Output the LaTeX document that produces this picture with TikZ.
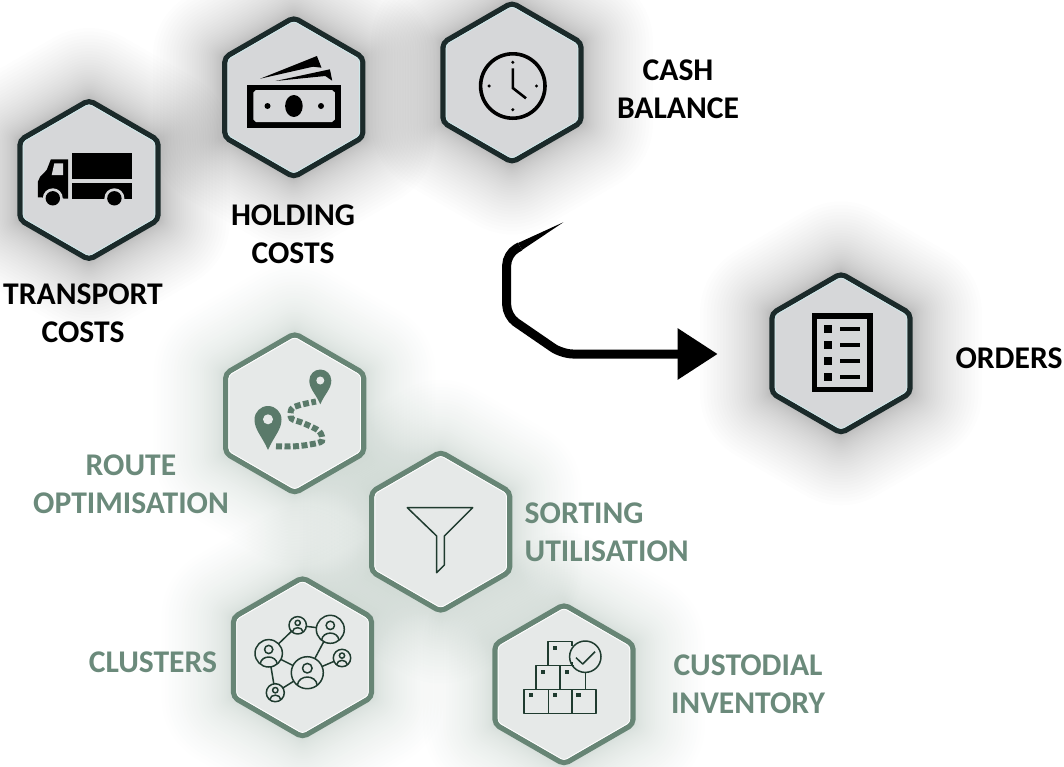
\documentclass[tikz,border=0pt]{standalone}
\usepackage{fontspec}
\setmainfont{Carlito}
\usepackage{tikz}
\usetikzlibrary{shapes.geometric,arrows.meta}
\definecolor{darkrim}{HTML}{1B2A2A}
\definecolor{darkfill}{HTML}{D6D7D9}
\definecolor{darkedge}{HTML}{CDE8EA}
\definecolor{greenrim}{HTML}{678575}
\definecolor{greenfill}{HTML}{E6E9E8}
\definecolor{greentext}{HTML}{6B8A7B}
\definecolor{greenicon}{HTML}{5A7A6A}
\definecolor{greenline}{HTML}{1F3B2F}
\tikzset{
  hexcell/.style={regular polygon,regular polygon sides=6,shape border rotate=30,
    minimum size=159.4pt,inner sep=0pt,outer sep=0pt,rounded corners=5pt,line width=5.3pt},
  hexedge/.style={regular polygon,regular polygon sides=6,shape border rotate=30,
    minimum size=152pt,inner sep=0pt,outer sep=0pt,rounded corners=3pt,line width=.8pt},
  hexglow/.style={regular polygon,regular polygon sides=6,shape border rotate=30,
    minimum size=159.4pt,inner sep=0pt,outer sep=0pt,line join=round},
  darklabel/.style={font=\fontsize{31.6}{38}\bfseries\selectfont,align=center,inner sep=0pt,text=black},
  greenlabel/.style={font=\fontsize{31.6}{38}\bfseries\selectfont,align=center,inner sep=0pt,text=greentext},
  thinicon/.style={draw=greenline,line width=1.5pt,line join=round}
}
\begin{document}
\begin{tikzpicture}[x=1pt,y=-1pt]
  \useasboundingbox (0,0) rectangle (1064,766);
  % glow first, so that it stays under every cell
  \foreach \x/\y in {89/180,293.8/97.3,512/82.5,841/353.3}
    \foreach \k in {1,...,40}
      \node[hexglow,draw=black,draw opacity=.008,line width=\k*\k*0.09pt] at (\x,\y) {};
  \foreach \x/\y in {294.7/413.3,440.7/531.7,302.5/657.3,564/684.3}
    \foreach \k in {1,...,40}
      \node[hexglow,draw=greenrim,draw opacity=.008,line width=\k*\k*0.09pt] at (\x,\y) {};
  % cells
  \foreach \n/\x/\y in {truck/89/180,cash/293.8/97.3,clock/512/82.5,orders/841/353.3}{
    \node[hexcell,draw=darkrim,fill=darkfill] (\n) at (\x,\y) {};
    \node[hexedge,draw=darkedge] (\n edge) at (\x,\y) {};
  }
  \foreach \n/\x/\y in {route/294.7/413.3,sorting/440.7/531.7,clusters/302.5/657.3,custodial/564/684.3}{
    \node[hexcell,draw=greenrim,fill=greenfill] (\n) at (\x,\y) {};
    \node[hexedge,draw=white] (\n edge) at (\x,\y) {};
  }
  % truck
  \fill (71.9,153) rectangle (131.6,179.3);
  \fill (71.9,183.3) rectangle (131.6,198.7);
  \fill (68.1,159.3) -- (50.9,159.3) -- (46.7,170) -- (40.2,176.7) -- (37.9,181.7)
    -- (37.9,197.3) -- (68.1,198.7) -- cycle;
  \fill[darkfill] (63.1,163.3) -- (54.3,163.3) -- (51.7,175) -- (63.1,175) -- cycle;
  \foreach \x in {52.8,114.4}{
    \fill[darkfill] (\x,198.3) circle (10);
    \fill (\x,198.3) circle (7.2);
  }
  % banknotes
  \fill (246.8,85) rectangle (341.4,127.7);
  \fill[darkfill] (256,90) -- (332,90) -- (334.9,92.5) -- (334.9,119.5) -- (332,122)
    -- (256,122) -- (253.3,119.5) -- (253.3,92.5) -- cycle;
  \fill (293.9,106) ellipse (8.8 and 11);
  \fill (267.5,106) circle (3) (321,106) circle (3);
  \fill (260.2,78.7) -- (316.9,56) -- (321.5,67.7) -- (313,66.7) -- cycle;
  \fill (275.5,81) -- (329.9,69.3) -- (332.2,80.7) -- (325.3,76) -- cycle;
  % clock
  \draw[line width=3.6pt] (512.8,86) circle (32.2);
  \draw[line width=2.6pt,line join=miter] (512.8,68.3) -- (512.8,88) -- (526,98.3);
  \fill (512.8,62.3) circle (1.7) (512.8,109.7) circle (1.7)
    (489.1,86) circle (1.7) (536.5,86) circle (1.7);
  % order list
  \draw[line width=5.5pt] (814.4,316) rectangle (870,389.6);
  \foreach \y in {329,345,361,377}{
    \fill (824.3,\y-3.9) rectangle (832,\y+3.9);
    \draw[line width=3.3pt] (840,\y) -- (860,\y);
  }
  % route
  \fill[greenicon] (268,450) .. controls (262,436) and (254.5,430) .. (254.5,419.5)
    arc (180:360:13.5) .. controls (281.5,430) and (274,436) .. (268,450) -- cycle;
  \fill[greenfill] (268,419.3) circle (5);
  \fill[greenicon] (320.3,404.3) .. controls (316,394) and (309.3,389) .. (309.3,380.5)
    arc (180:360:11) .. controls (331.3,389) and (324.6,394) .. (320.3,404.3) -- cycle;
  \fill[greenfill] (320.3,380.5) circle (4);
  \draw[greenicon,line width=6pt,dash pattern=on 6pt off 2.5pt] plot[smooth] coordinates
    {(276,446.3) (295,446.3) (310,444.5) (322,441) (319,431) (303,423) (291.5,418.5) (291.5,409) (300,405) (316,401.5)};
  % funnel
  \draw[thinicon] (407.3,507.7) -- (472.7,507.7) -- (444.3,536) -- (444.3,565)
    -- (436.7,572.7) -- (436.7,536) -- cycle;
  % clusters
  \foreach \n/\x/\y/\r in {usera/268.7/653.3/13.7,userb/297.7/625.3/8.7,userc/330.3/629.3/14,
      userd/342/658/8.7,usere/307.3/672.7/16,userf/275.3/692.7/9}{
    \node[circle,thinicon,minimum size=2*\r pt,inner sep=0pt,outer sep=0pt] (\n) at (\x,\y) {};
    \draw[thinicon] (\x,\y-.28*\r) circle (.3*\r);
    \draw[thinicon] (\x-.62*\r,\y+.78*\r) .. controls (\x-.55*\r,\y+.1*\r)
      and (\x+.55*\r,\y+.1*\r) .. (\x+.62*\r,\y+.78*\r);
  }
  \draw[thinicon] (usera) -- (userb);
  \draw[thinicon] (userb) -- (userc);
  \draw[thinicon] (userc) -- (usere);
  \draw[thinicon] (userd) -- (usere);
  \draw[thinicon] (usera) -- (usere);
  \draw[thinicon] (usera) -- (userf);
  \draw[thinicon] (userf) -- (usere);
  % boxes
  \draw[thinicon] (524,689.3) rectangle (548.3,713.3);
  \draw[thinicon] (548.3,689.3) rectangle (572,713.3);
  \draw[thinicon] (572,689.3) rectangle (596,713.3);
  \draw[thinicon] (536,689.3) -- (536,665.7) -- (560,665.7) -- (560,689.3);
  \draw[thinicon] (560,665.7) -- (574,665.7);
  \draw[thinicon] (548,665.7) -- (548,641.3) -- (572,641.3) -- (572,646);
  \draw[thinicon] (572,665.7) -- (572,662);
  \draw[thinicon] (585.3,672.4) -- (585.3,689.3);
  \draw[thinicon] (585.3,656.7) circle (15.7);
  \draw[thinicon] (576,657.7) -- (582.7,664) -- (595,651.7);
  \foreach \x/\y in {554.7/648,542.7/671.7,566.7/671.7,530.7/695.3,554.7/695.3,578.3/695.3}
    \fill[greenline] (\x-2.2,\y-2) rectangle (\x+2.2,\y+2);
  % flow arrow
  \coordinate (flowstart) at (563.3,222.3);
  \coordinate (flowbend) at (520,246.5);
  \coordinate (flowtip) at (717.7,354);
  \fill (flowstart) -- (522,250) -- (518,243) -- cycle;
  \draw[line width=9pt,rounded corners=11pt,-{Triangle[length=40pt,width=49pt]}]
    (flowbend) -- (506.7,254) -- (506.7,316) -- (562,354) -- (flowtip);
  % labels
  \node[darklabel] (cashlabel) at (678,89) {CASH\\BALANCE};
  \node[darklabel] (holdinglabel) at (293,234) {HOLDING\\COSTS};
  \node[darklabel] (transportlabel) at (83,313) {TRANSPORT\\COSTS};
  \node[darklabel] (orderslabel) at (1009,358) {ORDERS};
  \node[greenlabel] (routelabel) at (131,484) {ROUTE\\OPTIMISATION};
  \node[greenlabel,align=left,anchor=west] (sortinglabel) at (524.5,532.5) {SORTING\\UTILISATION};
  \node[greenlabel] (clusterslabel) at (153,662) {CLUSTERS};
  \node[greenlabel] (custodiallabel) at (748,684) {CUSTODIAL\\INVENTORY};
\end{tikzpicture}
\end{document}
